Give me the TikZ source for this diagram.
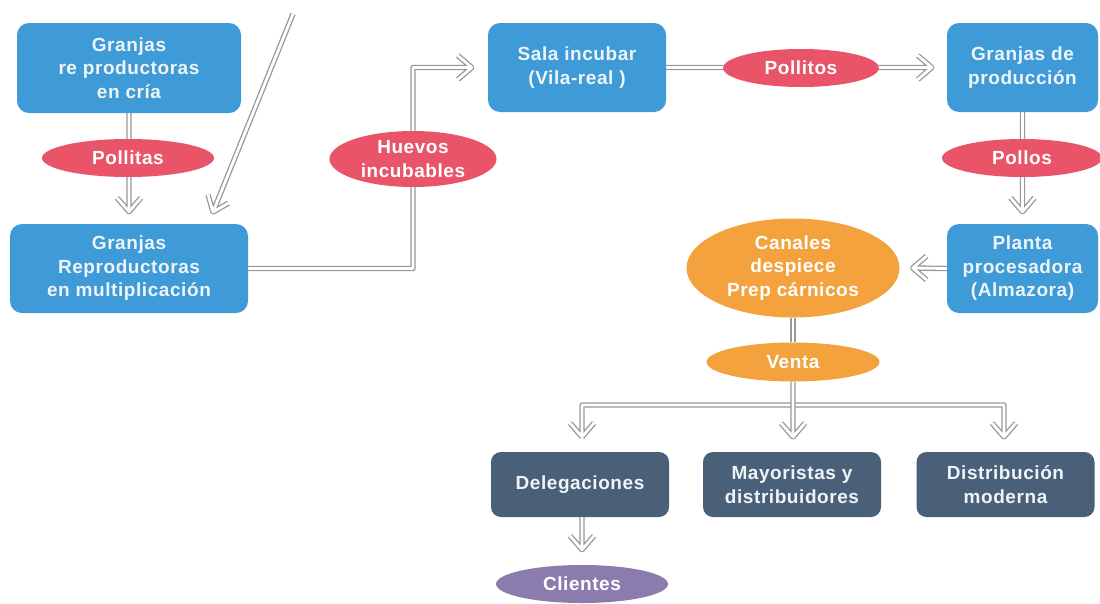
\documentclass[tikz,border=0pt]{standalone}
\usepackage{fontspec}
\setmainfont{Liberation Sans}[LetterSpace=3]
\usetikzlibrary{shapes.geometric,calc}
\pgfdeclarelayer{bg}
\pgfsetlayers{bg,main}
\definecolor{boxblue}{RGB}{62,155,215}
\definecolor{ellred}{RGB}{234,84,104}
\definecolor{ellorange}{RGB}{244,162,62}
\definecolor{boxdark}{RGB}{74,96,121}
\definecolor{ellpurple}{RGB}{139,124,174}
\definecolor{txtlight}{RGB}{238,244,248}
\definecolor{linegray}{RGB}{152,152,152}
\tikzset{
  lbl/.style={font=\bfseries\fontsize{19}{23.5}\selectfont, text=txtlight, align=center, inner sep=0pt},
  bluebox/.style={lbl, rectangle, rounded corners=12pt, fill=boxblue},
  darkbox/.style={lbl, rectangle, rounded corners=10pt, fill=boxdark, minimum width=178pt, minimum height=65pt},
  redell/.style={lbl, ellipse, fill=ellred, text=white},
  orell/.style={lbl, ellipse, fill=ellorange, text=white},
  purell/.style={lbl, ellipse, fill=ellpurple, text=white},
  dbl/.style={draw=linegray, line width=1.3pt, double=white, double distance=2.8pt, line join=round},
}
\begin{document}
\begin{tikzpicture}[x=1pt,y=-1pt]
\useasboundingbox (0,0) rectangle (1100,603);
\begin{pgfonlayer}{bg}
\fill[white] (0,0) rectangle (1100,603);
\end{pgfonlayer}
% boxes
\node[bluebox, minimum width=224pt, minimum height=90pt] (A) at (129,68) {Granjas\\re productoras\\en cría};
\node[bluebox, minimum width=238pt, minimum height=89pt] (B) at (129,268.5) {Granjas\\Reproductoras\\en multiplicación};
\node[bluebox, minimum width=178pt, minimum height=89pt] (C) at (577,67.5) {Sala incubar\\(Vila-real )};
\node[bluebox, minimum width=151pt, minimum height=89pt] (D) at (1022.5,67.5) {Granjas de\\producción};
\node[bluebox, minimum width=151pt, minimum height=89pt] (E) at (1022.5,268.5) {Planta\\procesadora\\(Almazora)};
% ellipses
\node[redell, minimum width=172pt, minimum height=38pt] (P1) at (128,158) {Pollitas};
\node[redell, minimum width=167pt, minimum height=56pt] (HI) at (413,159) {Huevos\\incubables};
\node[redell, minimum width=156pt, minimum height=38pt] (P2) at (801,68) {Pollitos};
\node[redell, minimum width=160pt, minimum height=38pt] (P3) at (1022,158) {Pollos};
\node[orell, minimum width=213pt, minimum height=99pt] (F) at (793,268) {Canales\\despiece\\Prep cárnicos};
\node[orell, minimum width=173pt, minimum height=39pt] (V) at (793,362) {Venta};
% bottom boxes
\node[darkbox] (G) at (580,484.5) {Delegaciones};
\node[darkbox] (H) at (792,484.5) {Mayoristas y\\distribuidores};
\node[darkbox] (I) at (1005.5,484.5) {Distribución\\moderna};
\node[purell, minimum width=172pt, minimum height=38pt] (K) at (582,584) {Clientes};
% connector points
\coordinate (diagtop) at (293,14);
\coordinate (diagtip) at (213,212);
\coordinate (J) at (793,405);
\coordinate (gtip) at (582,437);
\coordinate (htip) at (793,437);
\coordinate (itip) at (1004,437);
\begin{pgfonlayer}{bg}
% A -> B through Pollitas
\draw[dbl] (A.south) -- ($(B.north)+(0,-12)$) coordinate (tab) -- ++(-12,-14) (tab) -- ++(12,-14);
% diagonal
\draw[dbl] (diagtop) -- (diagtip) -- ++(-4.95,-17.1) (diagtip) -- ++(15.45,-8.86);
% B -> C through Huevos incubables
\draw[dbl] (B.east) -| (HI.center) |- ($(C.west)+(-16,0)$) coordinate (tbc) -- ++(-14,-12) (tbc) -- ++(-14,12);
% C -> D through Pollitos
\draw[dbl] (C.east) -- ($(D.west)+(-15,0)$) coordinate (tcd) -- ++(-14,-12) (tcd) -- ++(-14,12);
% D -> E through Pollos
\draw[dbl] (D.south) -- ($(E.north)+(0,-12)$) coordinate (tde) -- ++(-12,-14) (tde) -- ++(12,-14);
% F -> Venta
\draw[dbl] (F.south) -- (V.north);
\end{pgfonlayer}
% E -> F
\draw[dbl] (E.west) -- ($(F.east)+(13,0)$) coordinate (tef) -- ++(14,-12) (tef) -- ++(14,12);
% Delegaciones -> Clientes
\draw[dbl] (K.north |- G.south) -- ($(K.north)+(0,-15)$) coordinate (tgk) -- ++(-12,-14) (tgk) -- ++(12,-14);
% Venta -> three channels
\draw[dbl] (gtip) -- ++(-12,-14) (gtip) -- ++(12,-14)
  (gtip) |- (J) -| (itip) -- ++(-12,-14) (itip) -- ++(12,-14);
\draw[dbl] (V.south) -- (htip) -- ++(-12,-14) (htip) -- ++(12,-14);
\end{tikzpicture}
\end{document}
